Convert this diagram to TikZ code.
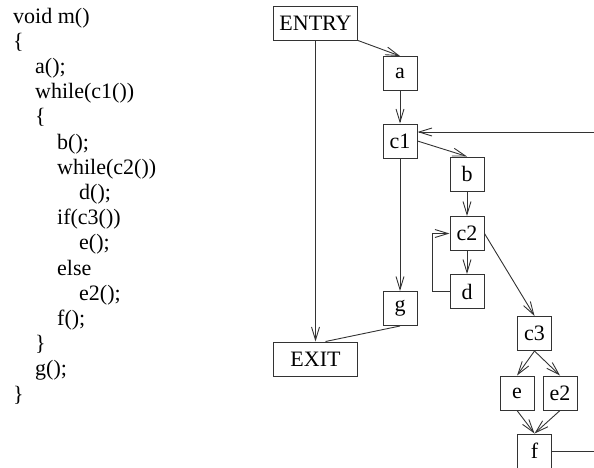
\documentclass[tikz,border=0pt]{standalone}
\usepackage{fontspec}
\setmainfont{Liberation Serif}
\usepackage{tikz}
\usetikzlibrary{arrows.meta, calc}
\definecolor{lineGray}{gray}{0.2}

\begin{document}
\begin{tikzpicture}[x=1pt, y=-1pt, >={Straight Barb[length=13pt,width=8pt]},
    blk/.style={draw=lineGray, line width=1pt, minimum width=34pt, minimum height=34pt, inner sep=0pt, font=\fontsize{22}{25}\selectfont},
    wide/.style={blk, minimum width=84pt},
    flow/.style={->, line width=0.9pt, lineGray},
    codeline/.style={anchor=base west, inner sep=0pt, font=\fontsize{22}{25}\selectfont}]
    \useasboundingbox (0,0) rectangle (594,467);

    % source of m()
    \foreach \ind/\txt [count=\i from 0] in {0/void m(), 0/\{, 1/a();, 1/while(c1()), 1/\{, 2/b();, 2/while(c2()), 3/d();, 2/if(c3()), 3/e();, 2/else, 3/e2();, 2/f();, 1/\}, 1/g();, 0/\}}
        \node[codeline] (code\i) at (13+22*\ind, 23+25.2*\i) {\txt};

    % blocks
    \node[wide] (entry) at (315.5,23) {ENTRY};
    \node[blk] (a) at (400,73.5) {a};
    \node[blk] (c1) at (400,141) {c1};
    \node[blk] (b) at (467,174) {b};
    \node[blk] (c2) at (467,233.5) {c2};
    \node[blk] (d) at (467,291.5) {d};
    \node[blk] (g) at (400,308.5) {g};
    \node[wide] (exit) at (315.5,359) {EXIT};
    \node[blk] (c3) at (534.5,333.5) {c3};
    \node[blk] (e) at (517,393) {e};
    \node[blk] (e2) at (560,393) {e2};
    \node[blk] (f) at (534.5,451) {f};
    \coordinate (back) at (594,132);
    \coordinate (out) at (594,451);

    % Edges
    \draw[flow] (entry.south east) -- (a.north);
    \draw[flow] (entry.south) -- (exit.north);
    \draw[flow] (a) -- (c1);
    \draw[flow] (c1.east) -- (b.north);
    \draw[flow] (c1) -- (g);
    \draw[flow, -] (g.south) -- ([xshift=10pt]exit.north);
    \draw[flow] (b) -- (c2);
    \draw[flow] (c2) -- (d);
    \draw[flow] (d.west) -- ++(-17,0) |- (c2.west);
    \draw[flow] (c2.east) -- (c3.north);
    \draw[flow] (c3.south) -- (e.north);
    \draw[flow] (c3.south) -- (e2.north);
    \draw[flow] (e.south) -- (f.north);
    \draw[flow] (e2.south) -- (f.north);
    \draw[flow, -] (f.east) -- (out);
    \draw[flow] (back) -- (back -| c1.east);
\end{tikzpicture}
\end{document}
